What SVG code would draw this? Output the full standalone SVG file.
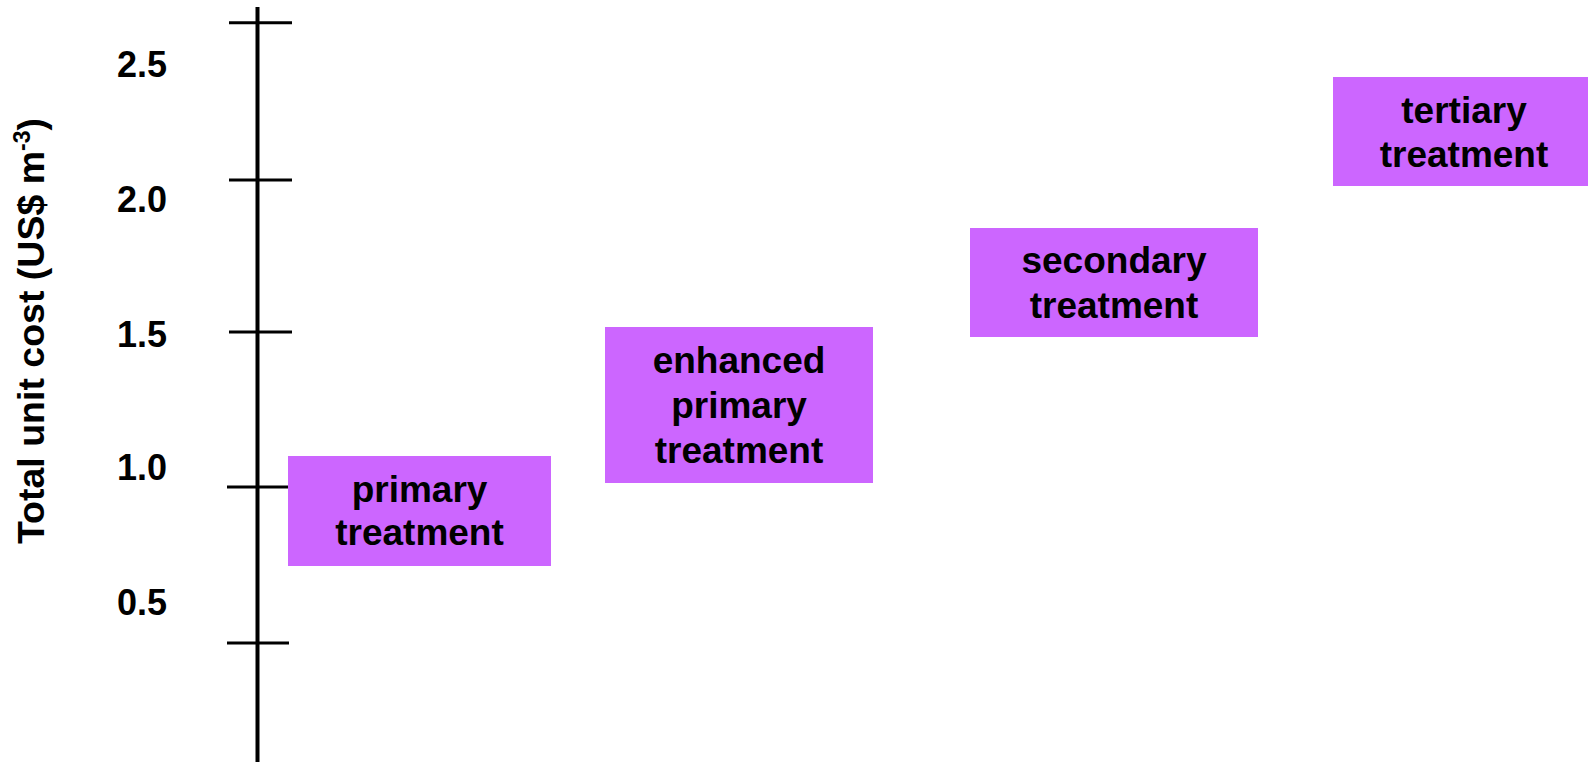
<svg xmlns="http://www.w3.org/2000/svg" width="1588" height="762" viewBox="0 0 1588 762">
<style>
.t{font-family:"Liberation Sans",Arial,sans-serif;font-weight:bold;font-size:36px;fill:#000}
.b{font-size:37px}
.box{fill:#CC66FF}
.ax{stroke:#000;stroke-width:4;fill:none}
.tk{stroke:#000;stroke-width:3;fill:none}
</style>
<rect width="1588" height="762" fill="#fff"/>
<g id="axis">
<line class="ax" x1="257.5" y1="7" x2="257.5" y2="762"/>
<line class="tk" x1="229" y1="22.7" x2="292" y2="22.7"/>
<line class="tk" x1="229" y1="180" x2="292" y2="180"/>
<line class="tk" x1="229" y1="332" x2="292" y2="332"/>
<line class="tk" x1="227" y1="487" x2="289" y2="487"/>
<line class="tk" x1="227" y1="643" x2="289" y2="643"/>
<text class="t" x="167" y="77" text-anchor="end">2.5</text>
<text class="t" x="167" y="212" text-anchor="end">2.0</text>
<text class="t" x="167" y="347" text-anchor="end">1.5</text>
<text class="t" x="167" y="480" text-anchor="end">1.0</text>
<text class="t" x="167" y="615" text-anchor="end">0.5</text>
<text class="t" font-size="37.5" transform="translate(44,331) rotate(-90)" text-anchor="middle" style="font-size:37.5px">Total unit cost (US$ m<tspan style="font-size:23px" dy="-14">-3</tspan><tspan dy="14">)</tspan></text>
</g>
<g id="primary">
<rect class="box" x="288" y="456" width="263" height="110"/>
<text class="t b" x="419.5" text-anchor="middle"><tspan x="419.5" y="502">primary</tspan><tspan x="419.5" y="545">treatment</tspan></text>
</g>
<g id="enhanced">
<rect class="box" x="605" y="327" width="268" height="156"/>
<text class="t b" x="739" text-anchor="middle"><tspan x="739" y="373">enhanced</tspan><tspan x="739" y="418">primary</tspan><tspan x="739" y="463">treatment</tspan></text>
</g>
<g id="secondary">
<rect class="box" x="970" y="228" width="288" height="109"/>
<text class="t b" x="1114" text-anchor="middle"><tspan x="1114" y="273">secondary</tspan><tspan x="1114" y="318">treatment</tspan></text>
</g>
<g id="tertiary">
<rect class="box" x="1333" y="77" width="262" height="109"/>
<text class="t b" x="1464" text-anchor="middle"><tspan x="1464" y="123">tertiary</tspan><tspan x="1464" y="167">treatment</tspan></text>
</g>
<g id="connectors"></g>
</svg>
